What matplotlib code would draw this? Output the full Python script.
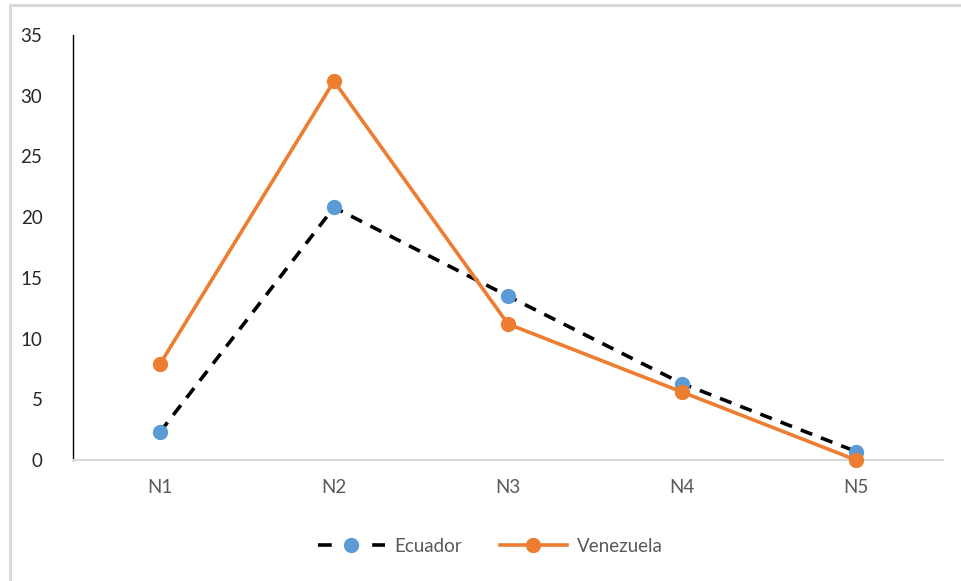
import matplotlib
matplotlib.use("Agg")
import matplotlib.pyplot as plt
from matplotlib.patches import Rectangle
from matplotlib.lines import Line2D

categories = ["N1", "N2", "N3", "N4", "N5"]
ecuador = [2.3, 20.8, 13.5, 6.3, 0.7]
venezuela = [7.9, 31.2, 11.2, 5.6, 0.0]
yticks = [0, 5, 10, 15, 20, 25, 30, 35]

plt.rcParams["font.family"] = ["Lato", "DejaVu Sans"]

W, H = 961, 581
fig = plt.figure(figsize=(W / 100, H / 100), dpi=100)

# chart-area frame
fig.patches.append(Rectangle((10 / W, -0.05), 1.2, 1 - 5 / H + 0.05,
                             transform=fig.transFigure, fill=False,
                             edgecolor="#d9d9d9", linewidth=2.2))

ax = fig.add_axes([73 / W, 1 - 460 / H, (943 - 73) / W, (460 - 35) / H])
x = list(range(len(categories)))

ax.plot(x, ecuador, color="black", linestyle=(0, (3.4, 2.6)), linewidth=2.6,
        marker="o", markersize=10, markerfacecolor="#5b9bd5",
        markeredgecolor="#5b9bd5", zorder=3, clip_on=False)
ax.plot(x, venezuela, color="#ed7d31", linewidth=2.6, marker="o",
        markersize=10, markerfacecolor="#ed7d31", markeredgecolor="#ed7d31",
        zorder=4, clip_on=False)

ax.set_xlim(-0.5, len(categories) - 0.5)
ax.set_ylim(0, 35)
ax.set_yticks(yticks)
ax.set_xticks(x)
ax.set_xticklabels(categories)

for s in ["top", "right"]:
    ax.spines[s].set_visible(False)
ax.spines["left"].set_color("black")
ax.spines["left"].set_linewidth(1.0)
ax.spines["bottom"].set_color("#d9d9d9")
ax.spines["bottom"].set_linewidth(1.5)
ax.tick_params(axis="both", length=0)
ax.tick_params(axis="y", pad=22, labelsize=13.5, labelcolor="#262626")
ax.tick_params(axis="x", pad=14, labelsize=13.5, labelcolor="#595959")

handles = [
    Line2D([0], [0], color="black", linestyle=(0, (3.8, 11.2)), linewidth=2.6,
           marker="o", markersize=10, markerfacecolor="#5b9bd5",
           markeredgecolor="#5b9bd5"),
    Line2D([0], [0], color="#ed7d31", linewidth=2.6, marker="o",
           markersize=10, markerfacecolor="#ed7d31",
           markeredgecolor="#ed7d31"),
]
fig.legend(handles, ["Ecuador", "Venezuela"], loc="center",
           bbox_to_anchor=(490 / W, 1 - 546 / H), ncol=2, frameon=False,
           fontsize=13.5, labelcolor="#595959", handlelength=3.6,
           columnspacing=2.0, handletextpad=0.5)

fig.savefig("out.png", dpi=100)
